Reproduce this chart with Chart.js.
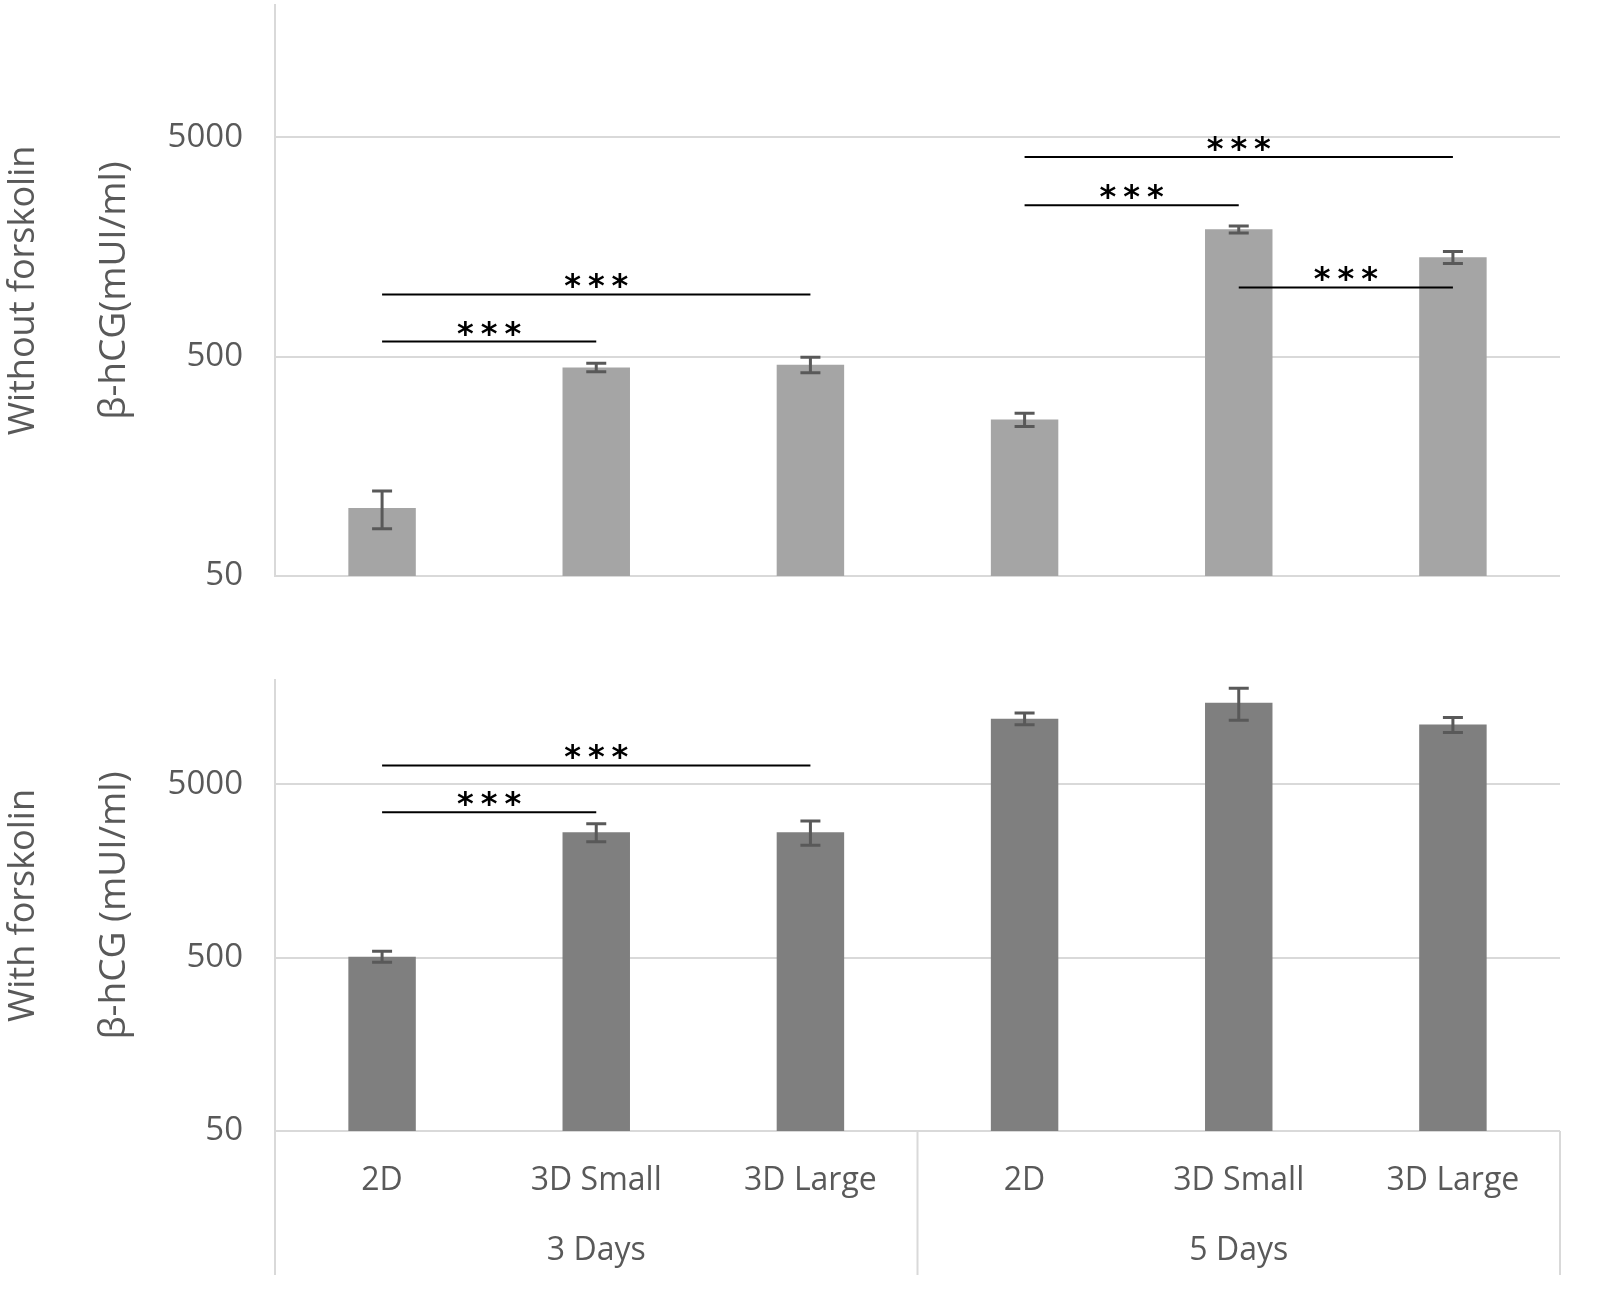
<!DOCTYPE html>
<html>
<head>
<meta charset="utf-8">
<script src="https://cdn.jsdelivr.net/npm/chart.js@4"></script>
<style>
  html, body { margin: 0; padding: 0; background: #fff; }
  #wrap { position: relative; width: 1600px; height: 1307px; }
  .panel { position: absolute; left: 0; width: 1600px; }
  #topBox { top: 0; height: 610px; }
  #botBox { top: 610px; height: 697px; }
</style>
</head>
<body>
<div id="wrap">
  <div class="panel" id="topBox"><canvas id="topChart"></canvas></div>
  <div class="panel" id="botBox"><canvas id="botChart"></canvas></div>
</div>
<script>
const categories = ["2D", "3D Small", "3D Large", "2D", "3D Small", "3D Large"];
const groups = ["3 Days", "5 Days"];
const yTicks = [50, 500, 5000];

// mean and error (mUI/ml)
const withoutMean = [102, 446, 459, 258, 1900, 1416];
const withoutErr = [20, 20, 37, 18, 70, 90];
const withMean = [507, 2648, 2648, 11970, 14800, 11060];
const withErr = [37, 318, 420, 950, 3100, 1100];

// significance brackets: [from index, to index, height]
const withoutSig = [[0, 1, 585], [0, 2, 959], [3, 4, 2445], [3, 5, 4054], [4, 5, 1033]];
const withSig = [[0, 1, 3453], [0, 2, 6426]];

const FONT = "'Open Sans', sans-serif";
const TEXT = "#595959";
const GRID = "#d9d9d9";

const errorBars = {
  id: "errorBars",
  afterDatasetsDraw(chart, args, opts) {
    const { ctx, scales } = chart;
    const means = chart.data.datasets[0].data;
    ctx.save();
    ctx.strokeStyle = "#595959";
    ctx.lineWidth = 3;
    means.forEach((m, i) => {
      const x = scales.x.getPixelForValue(i);
      const yt = scales.y.getPixelForValue(m + opts.err[i]);
      const yb = scales.y.getPixelForValue(m - opts.err[i]);
      ctx.beginPath();
      ctx.moveTo(x, yt); ctx.lineTo(x, yb);
      ctx.moveTo(x - 10, yt); ctx.lineTo(x + 10, yt);
      ctx.moveTo(x - 10, yb); ctx.lineTo(x + 10, yb);
      ctx.stroke();
    });
    ctx.restore();
  }
};

const sigLines = {
  id: "sigLines",
  afterDraw(chart, args, opts) {
    const { ctx, scales } = chart;
    ctx.save();
    ctx.strokeStyle = "#000";
    ctx.fillStyle = "#000";
    ctx.lineWidth = 2;
    ctx.font = "bold 32px 'DejaVu Sans'";
    ctx.textAlign = "center";
    ctx.textBaseline = "alphabetic";
    ctx.letterSpacing = "7px";
    opts.marks.forEach(([a, b, v]) => {
      const x1 = scales.x.getPixelForValue(a);
      const x2 = scales.x.getPixelForValue(b);
      const y = scales.y.getPixelForValue(v);
      ctx.beginPath();
      ctx.moveTo(x1, y); ctx.lineTo(x2, y);
      ctx.stroke();
      ctx.fillText("***", (x1 + x2) / 2 + 3.5, y + 2);
    });
    ctx.restore();
  }
};

const sideLabel = {
  id: "sideLabel",
  afterDraw(chart, args, opts) {
    const { ctx, chartArea } = chart;
    ctx.save();
    ctx.translate(24, (chartArea.top + chartArea.bottom) / 2);
    ctx.rotate(-Math.PI / 2);
    ctx.font = "36px " + FONT;
    ctx.fillStyle = TEXT;
    ctx.textAlign = "center";
    ctx.textBaseline = "middle";
    ctx.fillText(opts.text, 0, 0);
    ctx.restore();
  }
};

const separators = {
  id: "separators",
  afterDraw(chart) {
    const { ctx, scales, chartArea } = chart;
    if (!scales.x2) return;
    ctx.save();
    ctx.strokeStyle = GRID;
    ctx.lineWidth = 2;
    [-0.5, 2.5, 5.5].forEach(v => {
      const x = scales.x.getPixelForValue(v);
      ctx.beginPath();
      ctx.moveTo(x, chartArea.bottom);
      ctx.lineTo(x, scales.x2.bottom);
      ctx.stroke();
    });
    ctx.restore();
  }
};

function yAxis(title) {
  return {
    type: "logarithmic",
    min: 50,
    max: 20000,
    afterBuildTicks: s => { s.ticks = yTicks.map(v => ({ value: v })); },
    afterFit: s => { s.width = 205; s.paddingTop = 0; s.paddingBottom = 0; },
    ticks: {
      color: TEXT,
      font: { family: FONT, size: 33 },
      padding: 32,
      callback: v => String(v)
    },
    grid: { color: GRID, lineWidth: 2, drawTicks: false },
    border: { color: GRID, width: 2 },
    title: {
      display: true,
      text: title,
      color: TEXT,
      font: { family: FONT, size: 37 },
      padding: { top: 22, bottom: 0 }
    }
  };
}

function makeChart(id, mean, err, color, marks, side, title, showX) {
  const scales = {
    x: {
      offset: true,
      display: showX,
      grid: { display: false, drawTicks: false },
      border: { display: false },
      ticks: { color: TEXT, font: { family: FONT, size: 32 }, padding: 31, maxRotation: 0 }
    },
    y: yAxis(title)
  };
  if (showX) {
    scales.x.afterFit = s => { s.height = 70; };
    scales.x2 = {
      type: "category",
      labels: groups,
      position: "bottom",
      offset: true,
      weight: 1,
      grid: { display: false, drawTicks: false },
      border: { display: false },
      afterFit: s => { s.height = 74; },
      ticks: { color: TEXT, font: { family: FONT, size: 32 }, padding: 31, maxRotation: 0 }
    };
  }
  return new Chart(document.getElementById(id), {
    type: "bar",
    data: {
      labels: categories,
      datasets: [{
        data: mean,
        backgroundColor: color,
        categoryPercentage: 1,
        barPercentage: 0.315
      }]
    },
    options: {
      responsive: true,
      maintainAspectRatio: false,
      animation: false,
      layout: { padding: showX ? { top: 70, bottom: 32, left: 70, right: 40 } : { top: 5, bottom: 34, left: 70, right: 40 } },
      plugins: {
        legend: { display: false },
        tooltip: { enabled: false },
        errorBars: { err: err },
        sigLines: { marks: marks },
        sideLabel: { text: side }
      },
      scales: scales
    },
    plugins: [errorBars, sigLines, sideLabel, separators]
  });
}

makeChart("topChart", withoutMean, withoutErr, "#a5a5a5", withoutSig, "Without forskolin", "β-hCG(mUI/ml)", false);
makeChart("botChart", withMean, withErr, "#7f7f7f", withSig, "With forskolin", "β-hCG (mUI/ml)", true);
</script>
</body>
</html>
